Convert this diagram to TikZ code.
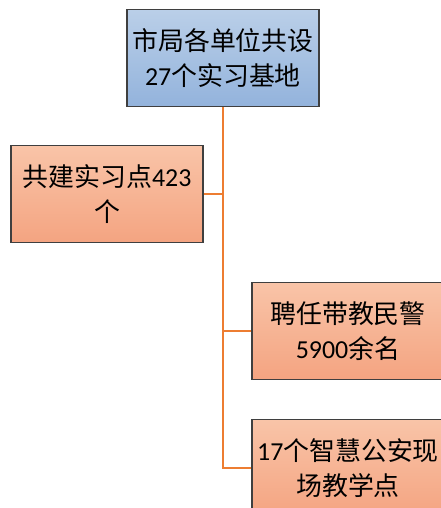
\documentclass[tikz,border=0pt]{standalone}
\usepackage{fontspec}
\setmainfont{Carlito}
\newfontfamily\cjk{Noto Sans CJK SC}
\usepackage{xcolor}
\usepackage{tikz}
\definecolor{boxline}{HTML}{3F3F3F}
\definecolor{blueA}{HTML}{BACFE8}
\definecolor{blueB}{HTML}{93B3DC}
\definecolor{peachA}{HTML}{F9C4A8}
\definecolor{peachB}{HTML}{F4A481}
\definecolor{trunk}{HTML}{ED7D31}

\begin{document}
\begin{tikzpicture}[x=1bp, y=-1bp,
    box/.style={draw=boxline, line width=1.2bp, minimum width=192bp, minimum height=97bp,
      align=center, inner sep=0pt, text=black, font=\fontsize{26}{35}\selectfont},
    bluebox/.style={box, top color=blueA, bottom color=blueB},
    peachbox/.style={box, top color=peachA, bottom color=peachB},
    link/.style={draw=trunk, line width=2.8bp}]
  \useasboundingbox (0,0) rectangle (441,508);
  \clip (0,0) rectangle (441,508);
  \node [bluebox] (base) at (223,58) {{\cjk 市局各单位共设}\\27{\cjk 个实习基地}};
  \node [peachbox] (site) at (107,194) {{\cjk 共建实习点}423\\{\cjk 个}};
  \node [peachbox] (mentor) at (348,331) {{\cjk 聘任带教民警}\\5900{\cjk 余名}};
  \node [peachbox] (scene) at (348,468) {17{\cjk 个智慧公安现}\\{\cjk 场教学点}};
  % trunk and branches
  \draw [link] (base.south) -- (base.south |- scene.west) -- (scene.west);
  \draw [link] (base.south |- site.east) -- (site.east);
  \draw [link] (base.south |- mentor.west) -- (mentor.west);
\end{tikzpicture}
\end{document}
